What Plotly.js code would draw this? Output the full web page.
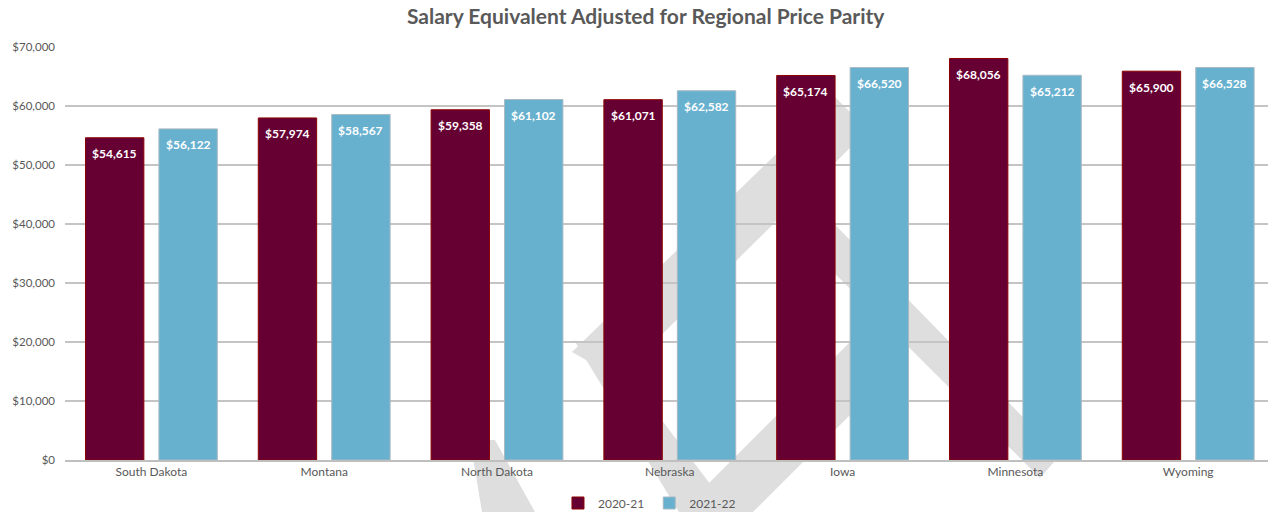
<!DOCTYPE html>
<html>
<head>
<meta charset="utf-8">
<script src="https://cdn.plot.ly/plotly-3.0.1.min.js"></script>
<style>
  html, body { margin: 0; padding: 0; background: #ffffff; }
  #chart { width: 1271px; height: 512px; }
</style>
</head>
<body>
<div id="chart"></div>
<script>
// ---- data ----
const states = ["South Dakota", "Montana", "North Dakota", "Nebraska", "Iowa", "Minnesota", "Wyoming"];
const series1Name = "2020-21";
const series2Name = "2021-22";
const salary2020 = [54615, 57974, 59358, 61071, 65174, 68056, 65900];
const salary2021 = [56122, 58567, 61102, 62582, 66520, 65212, 66528];
const yTickValues = [0, 10000, 20000, 30000, 40000, 50000, 60000, 70000];

// ---- layout constants ----
const W = 1271, H = 512;
const M = { l: 65, r: 3, t: 47, b: 52 };
const plotW = W - M.l - M.r, plotH = H - M.t - M.b;
const FONT = "Lato, 'Open Sans', sans-serif";
const GREY_TEXT = "#595959";
const catPx = 172.8;                       // category spacing seen in the reference
const xRange = [-0.5, -0.5 + plotW / catPx];

// watermark polygons (decorative), given in page pixels
const watermark = [
  [[572,352],[835,97],[868,130],[618,378]],
  [[574,340],[620,365],[745,530],[690,530]],
  [[662,530],[880,312],[905,360],[735,530]],
  [[779,218],[804,193],[1060,455],[1040,478]],
  [[470,440],[495,440],[545,530],[485,530]]
];
function toPaper(p) {
  return ((p[0] - M.l) / plotW).toFixed(4) + "," + ((H - M.b - p[1]) / plotH).toFixed(4);
}
const shapes = watermark.map(poly => ({
  type: "path",
  xref: "paper", yref: "paper",
  path: "M" + poly.map(toPaper).join("L") + "Z",
  fillcolor: "#dedede",
  line: { width: 0 },
  layer: "below"
}));

const fmt = v => "$" + v.toLocaleString("en-US");

const trace1 = {
  type: "bar", name: series1Name, x: states, y: salary2020,
  marker: { color: "#660033", line: { color: "#8b0000", width: 1 } },
  hoverinfo: "none"
};
const trace2 = {
  type: "bar", name: series2Name, x: states, y: salary2021,
  marker: { color: "#67b1cf", line: { color: "#a9b9c2", width: 1 } },
  hoverinfo: "none"
};

const bargap = 0.15, bargroupgap = 0.205;
const slotPx = catPx * (1 - bargap) / 2;

const annotations = [];
states.forEach((s, i) => {
  annotations.push({ x: s, y: salary2020[i], xref: "x", yref: "y", text: fmt(salary2020[i]),
    showarrow: false, xshift: -slotPx / 2, yshift: -16, yanchor: "middle",
    font: { family: FONT, size: 12, color: "#ffffff", weight: 700 } });
  annotations.push({ x: s, y: salary2021[i], xref: "x", yref: "y", text: fmt(salary2021[i]),
    showarrow: false, xshift: slotPx / 2, yshift: -16, yanchor: "middle",
    font: { family: FONT, size: 12, color: "#ffffff", weight: 700 } });
});

const layout = {
  width: W, height: H,
  margin: M,
  paper_bgcolor: "#ffffff",
  plot_bgcolor: "rgba(0,0,0,0)",
  font: { family: FONT, color: GREY_TEXT, size: 12 },
  title: {
    text: "<b>Salary Equivalent Adjusted for Regional Price Parity</b>",
    xref: "container", x: 0.508, xanchor: "center",
    yref: "container", y: 1 - 17 / H, yanchor: "middle",
    font: { family: FONT, size: 21, color: GREY_TEXT }
  },
  barmode: "group",
  bargap: bargap,
  bargroupgap: bargroupgap,
  xaxis: {
    type: "category",
    range: xRange,
    showgrid: false,
    showline: true, linecolor: "#bfbfbf", linewidth: 2,
    ticks: "", tickfont: { family: FONT, size: 12, color: GREY_TEXT },
    fixedrange: true
  },
  yaxis: {
    range: [0, 70000],
    tickvals: yTickValues,
    tickformat: "$,.0f",
    showgrid: true, gridcolor: "#c4c4c4", gridwidth: 1.5,
    zeroline: false,
    showline: false,
    ticks: "", ticklen: 0,
    ticklabelstandoff: 9,
    tickfont: { family: FONT, size: 11.5, color: GREY_TEXT },
    fixedrange: true
  },
  showlegend: true,
  legend: {
    orientation: "h",
    xref: "container", x: 0.511, xanchor: "center",
    yref: "container", y: 1 - 503 / H, yanchor: "middle",
    font: { family: FONT, size: 12, color: GREY_TEXT },
    itemwidth: 30,
    tracegroupgap: 0,
    bgcolor: "rgba(0,0,0,0)"
  },
  shapes: shapes,
  annotations: annotations
};

Plotly.newPlot("chart", [trace1, trace2], layout, { displayModeBar: false, staticPlot: true });
</script>
</body>
</html>
